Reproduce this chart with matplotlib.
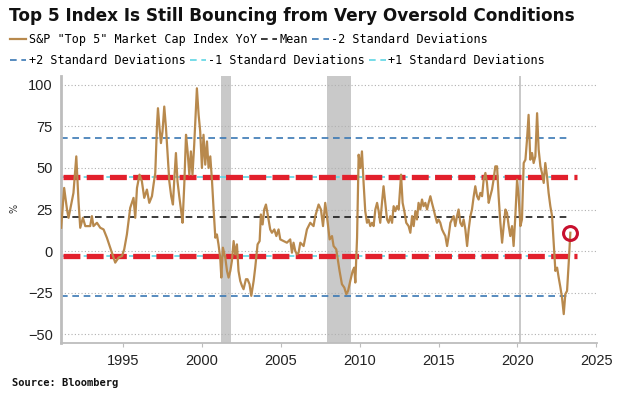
import matplotlib.pyplot as plt

# S&P "Top 5" market cap index, YoY %
years = [
    1991.06, 1991.25, 1991.43, 1991.53, 1991.74, 1991.84, 1992.02, 1992.16, 1992.27, 1992.44,
    1992.59, 1992.90, 1993.01, 1993.11, 1993.33, 1993.54, 1993.75, 1993.96, 1994.17, 1994.49,
    1994.70, 1994.92, 1995.06, 1995.23, 1995.44, 1995.65, 1995.76, 1995.87, 1996.03, 1996.18,
    1996.33, 1996.50, 1996.65, 1996.82, 1996.92, 1997.03, 1997.14, 1997.20, 1997.30, 1997.39,
    1997.49, 1997.60, 1997.71, 1997.81, 1997.92, 1998.04, 1998.15, 1998.23, 1998.34, 1998.44,
    1998.55, 1998.66, 1998.76, 1998.87, 1998.98, 1999.08, 1999.19, 1999.29, 1999.39, 1999.50,
    1999.67, 1999.78, 1999.88, 1999.99, 2000.09, 2000.20, 2000.31, 2000.41, 2000.52, 2000.63,
    2000.73, 2000.84, 2000.94, 2001.04, 2001.15, 2001.22, 2001.32, 2001.47, 2001.58, 2001.68,
    2001.79, 2001.89, 2002.00, 2002.10, 2002.21, 2002.31, 2002.42, 2002.53, 2002.63, 2002.78,
    2002.88, 2003.01, 2003.12, 2003.27, 2003.37, 2003.52, 2003.65, 2003.73, 2003.84, 2003.94,
    2004.05, 2004.18, 2004.32, 2004.43, 2004.58, 2004.71, 2004.85, 2004.96, 2005.17, 2005.38,
    2005.59, 2005.70, 2005.80, 2005.91, 2006.02, 2006.12, 2006.23, 2006.44, 2006.65, 2006.86,
    2007.07, 2007.18, 2007.39, 2007.54, 2007.67, 2007.81, 2007.92, 2008.09, 2008.24, 2008.34,
    2008.51, 2008.62, 2008.72, 2008.87, 2009.02, 2009.15, 2009.26, 2009.40, 2009.55, 2009.65,
    2009.72, 2009.83, 2009.93, 2010.04, 2010.14, 2010.25, 2010.35, 2010.46, 2010.56, 2010.67,
    2010.78, 2010.88, 2010.99, 2011.10, 2011.20, 2011.30, 2011.41, 2011.51, 2011.62, 2011.73,
    2011.83, 2011.94, 2012.05, 2012.15, 2012.26, 2012.36, 2012.47, 2012.62, 2012.72, 2012.83,
    2012.95, 2013.10, 2013.21, 2013.32, 2013.42, 2013.53, 2013.63, 2013.73, 2013.84, 2013.95,
    2014.05, 2014.16, 2014.27, 2014.37, 2014.48, 2014.58, 2014.69, 2014.79, 2014.90, 2015.00,
    2015.11, 2015.22, 2015.32, 2015.43, 2015.54, 2015.64, 2015.75, 2015.85, 2015.96, 2016.06,
    2016.17, 2016.27, 2016.38, 2016.49, 2016.59, 2016.70, 2016.81, 2016.91, 2017.02, 2017.12,
    2017.23, 2017.33, 2017.44, 2017.54, 2017.65, 2017.76, 2017.86, 2017.97, 2018.07, 2018.18,
    2018.28, 2018.39, 2018.49, 2018.60, 2018.71, 2018.81, 2018.92, 2019.03, 2019.13, 2019.24,
    2019.34, 2019.45, 2019.55, 2019.66, 2019.76, 2019.87, 2019.98, 2020.08, 2020.19, 2020.29,
    2020.40, 2020.51, 2020.61, 2020.71, 2020.82, 2020.93, 2021.03, 2021.14, 2021.25, 2021.35,
    2021.46, 2021.56, 2021.67, 2021.77, 2021.88, 2021.98, 2022.09, 2022.20, 2022.30, 2022.41,
    2022.52, 2022.62, 2022.73, 2022.83, 2022.94, 2023.04, 2023.15, 2023.25, 2023.36,
]
yoy = [
    14, 38, 25, 20, 30, 35, 57, 30, 14, 20,
    15, 15, 21, 15, 17, 14, 13, 8, 2, -7,
    -4, -3, 1, 10, 26, 32, 20, 38, 46, 42,
    32, 37, 29, 33, 40, 47, 76, 86, 74, 65,
    72, 87, 74, 59, 42, 33, 28, 42, 59, 42,
    33, 25, 17, 40, 70, 60, 46, 60, 46, 64,
    98, 82, 72, 50, 70, 52, 66, 50, 57, 42,
    25, 8, 10, 4, -4, -16, 2, -4, -12, -16,
    -12, -6, 6, -2, 4, -12, -18, -21, -23, -17,
    -17, -20, -27, -18, -10, 4, 6, 22, 16, 25,
    28, 21, 13, 11, 13, 9, 13, 7, 6, 5,
    7, -1, 5, 0, -2, -1, 5, 3, 13, 17,
    15, 21, 28, 25, 15, 29, 21, 7, 9, 3,
    1, -6, -12, -20, -22, -26, -24, -18, -12, -10,
    -19, 8, 58, 50, 60, 40, 24, 17, 19, 15,
    17, 15, 25, 29, 24, 17, 29, 39, 29, 19,
    17, 21, 17, 27, 24, 27, 25, 46, 29, 24,
    17, 15, 11, 21, 15, 24, 19, 29, 25, 31,
    27, 29, 25, 29, 33, 29, 25, 21, 17, 19,
    17, 13, 11, 9, 3, 9, 17, 19, 21, 15,
    21, 25, 17, 15, 19, 13, 3, 13, 21, 25,
    33, 39, 33, 31, 35, 33, 43, 47, 41, 29,
    33, 37, 43, 51, 51, 33, 17, 5, 15, 25,
    23, 15, 9, 15, 3, 21, 43, 33, 15, 19,
    53, 55, 67, 82, 55, 59, 53, 57, 83, 61,
    51, 47, 41, 53, 45, 35, 27, 21, 5, -12,
    -10, -16, -22, -28, -38, -26, -24, -8, 11,
]

mean_val = 20.5
sd_val = 23.8
recessions = [(2001.17, 2001.83), (2007.92, 2009.42), (2020.08, 2020.25)]
highlight_span = (1991.2, 2023.8)

c_series = '#b8894d'
c_blue = '#3a78b4'
c_cyan = '#5fd6e4'
c_red = '#e2202c'

fig = plt.figure(figsize=(6.32, 3.97), dpi=100)
W, H = 632, 397
ax = fig.add_axes([61 / W, 1 - 343 / H, (597 - 61) / W, (343 - 76) / H])

for a, b in recessions:
    ax.axvspan(a, b, color='#c9c9c9', lw=0, zorder=0)

ax.set_ylim(-55.4, 105.4)
ax.set_xlim(1991.05, 2025.05)
ax.set_yticks([-50, -25, 0, 25, 50, 75, 100])
ax.set_xticks([1995, 2000, 2005, 2010, 2015, 2020, 2025])
ax.grid(axis='y', linestyle=(0, (1, 2)), color='#b0b0b0', lw=0.8, zorder=0.5)

x0, x1 = years[0], years[-1]
dash = (0, (4, 2.8))
h_series, = ax.plot(years, yoy, color=c_series, lw=1.6, zorder=4,
                    label='S&P "Top 5" Market Cap Index YoY')
h_mean, = ax.plot([x0, x1], [mean_val, mean_val], color='#1a1a1a', lw=1.2,
                  linestyle=dash, zorder=2, label='Mean')
h_m2, = ax.plot([x0, x1], [mean_val - 2 * sd_val] * 2, color=c_blue, lw=1.2,
                linestyle=dash, zorder=2, label='-2 Standard Deviations')
h_p2, = ax.plot([x0, x1], [mean_val + 2 * sd_val] * 2, color=c_blue, lw=1.2,
                linestyle=dash, zorder=2, label='+2 Standard Deviations')
h_m1, = ax.plot([x0, x1], [mean_val - sd_val] * 2, color=c_cyan, lw=1.2,
                linestyle=dash, zorder=2, label='-1 Standard Deviations')
h_p1, = ax.plot([x0, x1], [mean_val + sd_val] * 2, color=c_cyan, lw=1.2,
                linestyle=dash, zorder=2, label='+1 Standard Deviations')

# red highlight at +/- 1 SD
for lvl in [mean_val + sd_val, mean_val - sd_val]:
    ax.plot(highlight_span, [lvl, lvl], color=c_red, lw=3.8,
            linestyle=(0, (3.2, 1.2)), zorder=3)

# circle on latest reading
ax.plot(years[-1], yoy[-1], marker='o', ms=10, mfc='none', mec='#c8102e',
        mew=2.2, zorder=5)

for s in ['top', 'right']:
    ax.spines[s].set_visible(False)
ax.spines['left'].set_color('#bdbdbd')
ax.spines['left'].set_linewidth(2)
ax.spines['bottom'].set_color('#bdbdbd')
ax.spines['bottom'].set_linewidth(1.3)
ax.tick_params(axis='y', length=0, pad=6, labelsize=10.5, labelcolor='#222222')
ax.tick_params(axis='x', length=3, color='#bdbdbd', pad=5, labelsize=10.5,
               labelcolor='#222222')
for lab in ax.get_xticklabels() + ax.get_yticklabels():
    lab.set_family('Liberation Sans')

fig.text(15 / W, 1 - 208 / H, '%', rotation=90, ha='center', va='center',
         fontsize=7, color='#333333')

fig.text(9 / W, 1 - 16 / H, 'Top 5 Index Is Still Bouncing from Very Oversold Conditions',
         fontsize=12.2, fontweight='bold', va='center', ha='left', color='#111111')

mono = {'family': 'DejaVu Sans Mono', 'size': 8.45}
leg_kw = dict(loc='upper left', ncol=3, frameon=False, prop=mono, handlelength=1.4,
              handletextpad=0.2, columnspacing=0.35, borderpad=0, borderaxespad=0)
fig.legend([h_series, h_mean, h_m2], [h.get_label() for h in [h_series, h_mean, h_m2]],
           bbox_to_anchor=(10 / W, 1 - 33 / H), **leg_kw)
fig.legend([h_p2, h_m1, h_p1], [h.get_label() for h in [h_p2, h_m1, h_p1]],
           bbox_to_anchor=(10 / W, 1 - 54 / H), **leg_kw)

fig.text(12 / W, 1 - 383 / H, 'Source: Bloomberg', fontsize=7.5, fontweight='bold',
         family='DejaVu Sans Mono', va='center', ha='left', color='#111111')

fig.savefig('out.png', dpi=100)
